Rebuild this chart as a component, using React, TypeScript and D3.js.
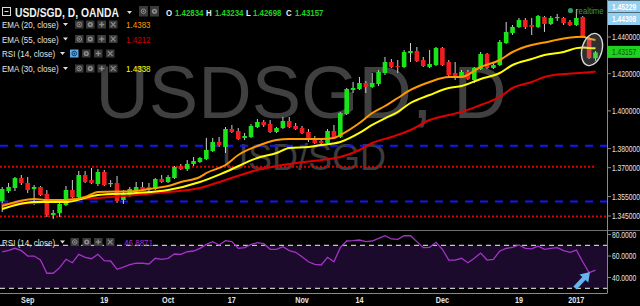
import React from "react";
import * as d3 from "d3";

// ---------- DATA ----------
const dates = [
  "2016-08-26","2016-08-29","2016-08-30","2016-08-31","2016-09-01","2016-09-02","2016-09-05","2016-09-06","2016-09-07","2016-09-08",
  "2016-09-09","2016-09-12","2016-09-13","2016-09-14","2016-09-15","2016-09-16","2016-09-19","2016-09-20","2016-09-21","2016-09-22",
  "2016-09-23","2016-09-26","2016-09-27","2016-09-28","2016-09-29","2016-09-30","2016-10-03","2016-10-04","2016-10-05","2016-10-06",
  "2016-10-07","2016-10-10","2016-10-11","2016-10-12","2016-10-13","2016-10-14","2016-10-17","2016-10-18","2016-10-19","2016-10-20",
  "2016-10-21","2016-10-24","2016-10-25","2016-10-26","2016-10-27","2016-10-28","2016-10-31","2016-11-01","2016-11-02","2016-11-03",
  "2016-11-04","2016-11-07","2016-11-08","2016-11-09","2016-11-10","2016-11-11","2016-11-14","2016-11-15","2016-11-16","2016-11-17",
  "2016-11-18","2016-11-21","2016-11-22","2016-11-23","2016-11-24","2016-11-25","2016-11-28","2016-11-29","2016-11-30","2016-12-01",
  "2016-12-02","2016-12-05","2016-12-06","2016-12-07","2016-12-08","2016-12-09","2016-12-12","2016-12-13","2016-12-14","2016-12-15",
  "2016-12-16","2016-12-19","2016-12-20","2016-12-21","2016-12-22","2016-12-23","2016-12-27","2016-12-28","2016-12-29","2016-12-30",
  "2017-01-02","2017-01-03","2017-01-04","2017-01-05",
];
const opens = [
  1.35272,1.35788,1.35944,1.36463,1.36203,1.35892,1.35995,1.35633,1.34552,1.34655,
  1.35066,1.35840,1.35478,1.36619,1.36359,1.36151,1.36776,1.36151,1.36203,1.35323,
  1.35530,1.35788,1.35995,1.35995,1.35892,1.36411,1.36255,1.36463,1.37089,1.36932,
  1.37193,1.37298,1.37455,1.37875,1.38350,1.38087,1.39036,1.38930,1.38561,1.38613,
  1.39142,1.39408,1.39302,1.38877,1.39089,1.39461,1.39196,1.39089,1.38877,1.38455,
  1.38402,1.38297,1.38930,1.38613,1.39834,1.41120,1.41173,1.41497,1.41281,1.41444,
  1.42037,1.42634,1.42416,1.42362,1.43124,1.43233,1.42743,1.42362,1.42471,1.43397,
  1.42634,1.42037,1.41875,1.42091,1.41659,1.42254,1.43070,1.42308,1.42471,1.43671,
  1.44220,1.44550,1.44936,1.44660,1.44550,1.45102,1.44716,1.45047,1.45047,1.44826,
  1.44660,1.45102,1.43945,1.42834,
];
const highs = [
  1.35995,1.36203,1.36515,1.36619,1.36515,1.36099,1.36047,1.35840,1.34809,1.35220,
  1.36047,1.36359,1.36828,1.36828,1.36984,1.36932,1.36880,1.36359,1.36567,1.35840,
  1.35995,1.36255,1.36255,1.36203,1.36463,1.36619,1.36619,1.37089,1.37193,1.37403,
  1.37560,1.37560,1.38561,1.38561,1.38613,1.39142,1.39249,1.39089,1.38825,1.39302,
  1.39568,1.39515,1.39515,1.39142,1.39674,1.39674,1.39355,1.39196,1.39036,1.38666,
  1.38561,1.39036,1.39249,1.39941,1.41227,1.41552,1.41821,1.41605,1.42037,1.42200,
  1.42906,1.42797,1.42743,1.43288,1.43671,1.43452,1.42906,1.43288,1.43452,1.43452,
  1.42743,1.42634,1.42200,1.42200,1.42362,1.43179,1.43124,1.42634,1.43835,1.44826,
  1.44660,1.45047,1.45047,1.45047,1.45213,1.45158,1.45158,1.45268,1.45102,1.44936,
  1.45546,1.45158,1.44000,1.43234,
];
const lows = [
  1.34706,1.35685,1.35788,1.36099,1.35685,1.35066,1.35530,1.34450,1.34347,1.34450,
  1.35014,1.35427,1.35427,1.36203,1.36151,1.36047,1.36047,1.35995,1.35169,1.35117,
  1.35478,1.35737,1.35840,1.35737,1.35840,1.36203,1.36203,1.36411,1.36880,1.36828,
  1.37089,1.37246,1.37403,1.37823,1.38087,1.37770,1.38825,1.38455,1.38455,1.38561,
  1.39089,1.39142,1.38825,1.38825,1.39036,1.39089,1.38983,1.38772,1.38350,1.38245,
  1.38245,1.38245,1.38561,1.38561,1.39781,1.40958,1.41120,1.40958,1.41227,1.41335,
  1.41929,1.42308,1.42037,1.42308,1.42634,1.42634,1.42362,1.42308,1.42416,1.42416,
  1.41875,1.41659,1.41821,1.41659,1.41497,1.42200,1.42254,1.42254,1.42416,1.43616,
  1.44110,1.44495,1.44440,1.44110,1.44495,1.44275,1.44660,1.44881,1.44660,1.44605,
  1.44605,1.43945,1.42797,1.42698,
];
const closes = [
  1.35892,1.35995,1.36463,1.36203,1.35840,1.35995,1.35581,1.34552,1.34655,1.35117,
  1.35840,1.35478,1.36619,1.36255,1.36203,1.36776,1.36099,1.36203,1.35272,1.35685,
  1.35892,1.35995,1.35892,1.35840,1.36411,1.36255,1.36515,1.37036,1.36932,1.37193,
  1.37350,1.37507,1.37928,1.38350,1.38192,1.39036,1.38877,1.38508,1.38666,1.39196,
  1.39408,1.39249,1.38877,1.39089,1.39461,1.39142,1.39036,1.38825,1.38455,1.38297,
  1.38297,1.38930,1.38613,1.39887,1.41173,1.41227,1.41497,1.41281,1.41497,1.42091,
  1.42634,1.42362,1.42362,1.43179,1.43233,1.42688,1.42416,1.42525,1.43397,1.42471,
  1.41929,1.41875,1.42091,1.41713,1.42308,1.43070,1.42308,1.42471,1.43726,1.44275,
  1.44550,1.44936,1.44550,1.44550,1.45158,1.44716,1.45047,1.45102,1.44771,1.44660,
  1.45047,1.44000,1.42852,1.43157,
];
const rsiValues = [
  63.8,65.3,67.2,65.0,60.0,60.0,56.3,44.0,44.0,49.2,
  57.0,53.8,61.6,58.8,57.5,61.6,55.7,55.4,47.7,49.8,
  52.0,53.5,53.3,52.6,57.9,57.0,57.9,61.9,61.6,64.0,
  64.7,67.2,70.9,73.4,70.3,74.3,73.4,67.2,67.8,70.9,
  72.4,71.5,66.3,66.3,68.7,65.0,63.5,59.4,54.7,52.3,
  51.7,58.8,54.7,67.8,74.0,74.3,74.9,73.4,74.0,76.5,
  78.9,75.9,75.6,78.9,78.9,73.4,67.8,68.1,72.8,66.3,
  56.3,56.3,57.9,53.8,57.9,62.8,56.3,57.0,64.7,67.2,
  68.1,70.3,67.2,66.6,69.3,66.3,67.2,67.8,65.0,63.5,
  65.6,54.7,44.5,46.89,
];

// EMA lines at sample dates
const ema20Dates = ["2016-08-26","2016-09-02","2016-09-06","2016-09-09","2016-09-14","2016-09-16","2016-09-26","2016-09-28","2016-10-03","2016-10-05","2016-10-10","2016-10-11","2016-10-14","2016-10-18","2016-10-21","2016-10-26","2016-10-28","2016-11-02","2016-11-04","2016-11-08","2016-11-09","2016-11-14","2016-11-16","2016-11-18","2016-11-22","2016-11-24","2016-11-29","2016-12-02","2016-12-06","2016-12-09","2016-12-14","2016-12-16","2016-12-21","2016-12-23","2016-12-29","2017-01-02","2017-01-03","2017-01-04","2017-01-05"];
const ema20Values = [1.35014,1.35375,1.35323,1.35323,1.35478,1.35737,1.35788,1.35892,1.36047,1.36255,1.36515,1.36723,1.37141,1.37665,1.38139,1.38455,1.38508,1.38508,1.38508,1.38561,1.38719,1.39355,1.39887,1.40261,1.40689,1.41120,1.41552,1.41821,1.41821,1.42362,1.42743,1.43179,1.43561,1.4370,1.4392,1.4400,1.4401,1.4390,1.4383];
const ema30Dates = ["2016-08-26","2016-09-02","2016-09-09","2016-09-16","2016-09-26","2016-10-03","2016-10-10","2016-10-14","2016-10-21","2016-10-26","2016-10-28","2016-11-02","2016-11-04","2016-11-09","2016-11-14","2016-11-16","2016-11-18","2016-11-22","2016-11-24","2016-11-29","2016-12-02","2016-12-06","2016-12-09","2016-12-14","2016-12-16","2016-12-21","2016-12-23","2016-12-29","2017-01-02","2017-01-03","2017-01-04","2017-01-05"];
const ema30Values = [1.34859,1.35220,1.35220,1.35581,1.35685,1.35840,1.36255,1.36776,1.37507,1.37770,1.38034,1.38087,1.38192,1.38350,1.38825,1.39249,1.3960,1.39941,1.40422,1.40850,1.41227,1.41335,1.41713,1.42037,1.42471,1.42797,1.43015,1.43179,1.4339,1.4343,1.43395,1.4338];
const ema55Dates = ["2016-08-26","2016-09-02","2016-09-09","2016-09-16","2016-09-26","2016-10-03","2016-10-10","2016-10-14","2016-10-21","2016-10-28","2016-11-04","2016-11-09","2016-11-14","2016-11-16","2016-11-21","2016-11-24","2016-11-29","2016-12-02","2016-12-06","2016-12-09","2016-12-14","2016-12-16","2016-12-21","2016-12-23","2016-12-29","2017-01-03","2017-01-04","2017-01-05"];
const ema55Values = [1.35117,1.35169,1.35323,1.35427,1.35581,1.35737,1.35944,1.36359,1.36880,1.37193,1.37403,1.37560,1.37928,1.38297,1.38613,1.38983,1.39515,1.39781,1.39941,1.40314,1.40744,1.41227,1.41552,1.41821,1.41983,1.42054,1.42082,1.4212];

const priceTicks = [1.44, 1.42, 1.40, 1.38, 1.37, 1.355, 1.345];
const rsiTicks = [80, 60, 40];
const rsiBands = [70, 30];
const xTickDates = ["2016-09-01","2016-09-19","2016-10-03","2016-10-17","2016-11-01","2016-11-14","2016-12-01","2016-12-19","2017-01-02"];
const xTickLabels = ["Sep","19","Oct","17","Nov","14","Dec","19","2017"];
const blueLevels = [1.3815, 1.3525];
const redLevels = [1.3705, 1.3448];
const tagValues = ["1.45229", "1.44308"];
const lastClose = 1.43157;
const quoteLetters = ["O", "H", "L", "C"];
const quoteValues = ["1.42834", "1.43234", "1.42698", "1.43157"];
const legendNames = ["EMA (20, close)", "EMA (55, close)", "RSI (14, close)", "EMA (30, close)"];
const legendValues = ["1.4383", "1.4212", "", "1.4338"];
const legendColors = ["#ff9a00", "#d00000", "", "#ffff00"];
const rsiLegendValue = "46.8871";

const SANS = "'Liberation Sans',Arial,sans-serif";

// condensed text: Liberation Sans squeezed horizontally
function NText({ x, y, size, fill, weight, anchor, sx, children }: any) {
  const s = sx == null ? 0.82 : sx;
  return (
    <text transform={`translate(${x},${y}) scale(${s},1)`} fontFamily={SANS} fontSize={size} fill={fill}
      fontWeight={weight || "normal"} textAnchor={anchor || "start"}>{children}</text>
  );
}

function Box({ x, y, w, h, kind, blue }: any) {
  const cx = x + w / 2, cy = y + h / 2;
  const c = blue ? "#123a60" : "#8c8c8c";
  let sym: any = null;
  if (kind === "eye") sym = (<g><circle cx={cx} cy={cy} r={2.3} fill="none" stroke={c} strokeWidth={1} /><circle cx={cx} cy={cy} r={0.9} fill={c} /></g>);
  if (kind === "gear") sym = (<g><circle cx={cx} cy={cy} r={2.6} fill={c} /><circle cx={cx} cy={cy} r={1} fill="#3a3a3a" /></g>);
  if (kind === "plus") sym = (<g stroke={c} strokeWidth={1.3}><line x1={cx - 2.6} x2={cx + 2.6} y1={cy} y2={cy} /><line x1={cx} x2={cx} y1={cy - 2.6} y2={cy + 2.6} /></g>);
  if (kind === "x") sym = (<g stroke={c} strokeWidth={1.2}><line x1={cx - 2.3} x2={cx + 2.3} y1={cy - 2.3} y2={cy + 2.3} /><line x1={cx - 2.3} x2={cx + 2.3} y1={cy + 2.3} y2={cy - 2.3} /></g>);
  return (<g><rect x={x} y={y} width={w} height={h} fill={blue ? "#5aa9e6" : "#3a3a3a"} />{sym}</g>);
}

function Caret({ x, y }: any) {
  return <path d={`M${x},${y} L${x + 5},${y} L${x + 2.5},${y + 3} Z`} fill="#dddddd" />;
}

export default function App() {
  const W = 640, H = 306, PR = 607;
  const x = d3.scalePoint<string>().domain(dates).range([2.2, 595.5]);
  const y = d3.scaleLog().domain([1.345, 1.44]).range([216, 37]);
  const yr = d3.scaleLinear().domain([30, 80]).range([288.3, 234.55]);
  const half = 2.3;

  const emaLine = d3.line<[string, number]>().x((d) => x(d[0]) as number).y((d) => y(d[1])).curve(d3.curveMonotoneX);
  const zip = (a: string[], b: number[]) => a.map((d, i) => [d, b[i]] as [string, number]);
  const rsiLine = d3.line<[string, number]>().x((d) => x(d[0]) as number).y((d) => yr(d[1]));

  const fmtP = d3.format(".6f");
  const fmtR = d3.format(".4f");

  const kinds = ["eye", "gear", "plus", "x"];
  const rowBase = [28, 42.5, 57, 72];
  const AX = 8.2;

  return (
    <svg width={W} height={H} style={{ position: "absolute", left: 0, top: 0, display: "block" }}>
      <defs>
        <clipPath id="pp"><rect x={0} y={0} width={PR} height={230} /></clipPath>
        <clipPath id="rp"><rect x={0} y={231} width={PR} height={62} /></clipPath>
      </defs>
      <rect x={0} y={0} width={W} height={H} fill="#000" />

      {/* watermark */}
      <text x={301} y={118} textAnchor="middle" fontFamily={SANS} fontSize={74} fill="#404040">USDSGD, D</text>
      <text x={304} y={170} textAnchor="middle" fontFamily={SANS} fontSize={36} fill="#3c3c3c">USD/SGD</text>

      {/* price pane */}
      <g clipPath="url(#pp)">
        {blueLevels.map((v, i) => (
          <line key={"b" + i} x1={0} x2={PR} y1={y(v)} y2={y(v)} stroke="#1515ff" strokeWidth={2} strokeDasharray="8,7" />
        ))}
        {redLevels.map((v, i) => (
          <line key={"r" + i} x1={0} x2={i === 0 ? 595 : PR} y1={y(v)} y2={y(v)} stroke="#e00000" strokeWidth={2} strokeDasharray="2,2" />
        ))}
        {dates.map((d, i) => {
          const cx = x(d) as number;
          const up = closes[i] >= opens[i];
          const top = y(Math.max(opens[i], closes[i]));
          const bot = y(Math.min(opens[i], closes[i]));
          return (
            <g key={d}>
              <line x1={cx} x2={cx} y1={y(highs[i])} y2={y(lows[i])} stroke="#cfcfcf" strokeWidth={1} />
              <rect x={cx - half} y={top} width={half * 2} height={Math.max(1.2, bot - top)} fill={up ? "#19e619" : "#f01e1e"} />
            </g>
          );
        })}
        <path d={emaLine(zip(ema55Dates, ema55Values)) || ""} fill="none" stroke="#e00000" strokeWidth={2} />
        <path d={emaLine(zip(ema30Dates, ema30Values)) || ""} fill="none" stroke="#ffff00" strokeWidth={2} />
        <path d={emaLine(zip(ema20Dates, ema20Values)) || ""} fill="none" stroke="#ff9a00" strokeWidth={2} />
        {/* highlight ellipse */}
        <ellipse cx={592} cy={49.5} rx={10} ry={16.5} transform="rotate(15 592 49.5)" fill="rgba(170,170,170,0.28)" stroke="#d8d8d8" strokeWidth={1.4} />
        {/* realtime */}
        <circle cx={570.5} cy={10.5} r={2.6} fill="#2e9e5e" />
        <NText x={576} y={13.5} size={9.5} fill="#2f9c5d">realtime</NText>
      </g>

      {/* RSI pane */}
      <rect x={0} y={yr(70)} width={PR} height={yr(30) - yr(70)} fill="#1b0a2b" />
      {rsiBands.map((v) => (
        <line key={"band" + v} x1={0} x2={PR} y1={yr(v)} y2={yr(v)} stroke="#c4c4c4" strokeWidth={1.3} strokeDasharray="5,4" />
      ))}
      <g clipPath="url(#rp)">
        <path d={rsiLine(zip(dates, rsiValues)) || ""} fill="none" stroke="#a532c8" strokeWidth={1.3} />
      </g>
      {/* arrow */}
      <path d="M0,-2.2 L13,-2.2 L13,-6 L22,0 L13,6 L13,2.2 L0,2.2 Z" transform="translate(575,288) rotate(-47)" fill="#66b4ee" />

      {/* frame / axes */}
      <line x1={0} x2={W} y1={230.5} y2={230.5} stroke="#6e6e6e" strokeWidth={1} />
      <line x1={PR + 0.5} x2={PR + 0.5} y1={0} y2={293.5} stroke="#8a8a8a" strokeWidth={1} />
      <line x1={0} x2={PR} y1={293.5} y2={293.5} stroke="#8a8a8a" strokeWidth={1} />

      {priceTicks.map((v) => (
        <g key={"pt" + v}>
          <line x1={PR} x2={PR + 4} y1={y(v)} y2={y(v)} stroke="#8a8a8a" />
          <NText x={612} y={y(v) + 3} size={AX} fill="#e6e6e6">{fmtP(v)}</NText>
        </g>
      ))}
      {rsiTicks.map((v) => (
        <g key={"rt" + v}>
          <line x1={PR} x2={PR + 4} y1={yr(v)} y2={yr(v)} stroke="#8a8a8a" />
          <NText x={612} y={yr(v) + 3} size={AX} fill="#e6e6e6">{fmtR(v)}</NText>
        </g>
      ))}
      {xTickDates.map((d, i) => (
        <NText key={"xt" + d} x={x(d) as number} y={303} anchor="middle" weight="bold" size={8.8} fill="#e6e6e6">{xTickLabels[i]}</NText>
      ))}

      {/* price tags */}
      {tagValues.map((t, i) => (
        <g key={"tag" + t}>
          <rect x={608} y={i === 0 ? 0.5 : 13} width={32} height={12} fill="#93cff0" />
          <NText x={612} y={(i === 0 ? 6.5 : 19) + 3} size={AX} weight="bold" fill="#ffffff">{t}</NText>
        </g>
      ))}
      <rect x={608} y={y(lastClose) - 6.5} width={32} height={12} fill="#1ed21e" />
      <NText x={612} y={y(lastClose) + 2.5} size={AX} fill="#0b4f0b">{d3.format(".5f")(lastClose)}</NText>

      {/* legend line 1 */}
      <rect x={2.5} y={7.5} width={8} height={8} fill="none" stroke="#dddddd" strokeWidth={1} />
      <line x1={4.5} x2={8.5} y1={11.5} y2={11.5} stroke="#dddddd" strokeWidth={1} />
      <NText x={15} y={16.5} size={12.6} weight="bold" fill="#f0f0f0">USD/SGD, D, OANDA</NText>
      <Caret x={127} y={11} />
      <Box x={139} y={6} w={9} h={10.5} kind="eye" />
      <Box x={150} y={6} w={9} h={10.5} kind="gear" />
      {quoteLetters.map((l, i) => (
        <g key={"q" + l}>
          <NText x={166 + i * 40} y={15.5} size={9.6} weight="bold" fill="#f0f0f0">{l}</NText>
          <NText x={175 + i * 40 - (l === "L" ? 2 : 0)} y={15.5} size={9.6} weight="bold" fill="#1ed21e">{quoteValues[i]}</NText>
        </g>
      ))}

      {/* indicator legend rows */}
      {legendNames.map((n, i) => {
        const b = rowBase[i];
        const isRsi = legendValues[i] === "";
        const bx = isRsi ? [70, 82, 94, 106] : [75, 86, 97.5, 109];
        return (
          <g key={"lg" + i}>
            <NText x={2} y={b} size={9.8} fill="#e4e4e4">{n}</NText>
            <Caret x={isRsi ? 60 : 63} y={b - 5} />
            {bx.map((xx, j) => (
              <Box key={j} x={xx} y={b - 7.5} w={8.5} h={8} kind={kinds[j]} blue={isRsi && j === 0} />
            ))}
            {!isRsi && (
              <NText x={126} y={b} size={9.8} fill={legendColors[i]}>{legendValues[i]}</NText>
            )}
          </g>
        );
      })}

      {/* RSI pane legend */}
      <NText x={2} y={245.5} size={9.8} fill="#e4e4e4">RSI (14, close)</NText>
      <Caret x={60} y={240.5} />
      {[70.5, 82.5, 94, 106].map((xx, j) => (
        <Box key={"rb" + j} x={xx} y={238} w={8.5} h={8} kind={kinds[j]} />
      ))}
      <NText x={124} y={245.5} size={9.8} fill="#a532c8">{rsiLegendValue}</NText>
    </svg>
  );
}
